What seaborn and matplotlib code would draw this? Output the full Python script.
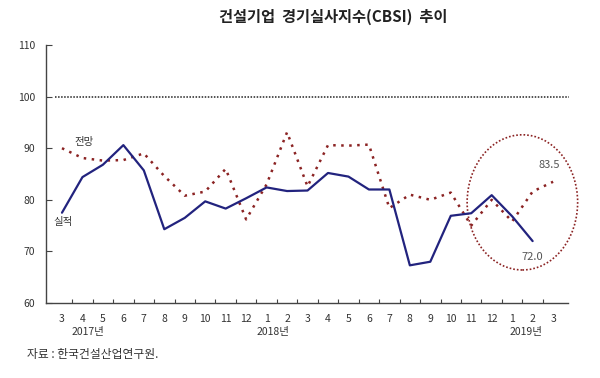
import matplotlib
matplotlib.use("Agg")
import matplotlib.pyplot as plt
from matplotlib.patches import Ellipse
import seaborn as sns
import pandas as pd

sns.set_style("white")
plt.rcParams['font.family'] = ['Noto Sans CJK KR', 'DejaVu Sans']

# Data: 2017.3 ~ 2019.3
month_labels = ['3', '4', '5', '6', '7', '8', '9', '10', '11', '12',
                '1', '2', '3', '4', '5', '6', '7', '8', '9', '10', '11', '12',
                '1', '2', '3']
year_labels = ['2017년', '2018년', '2019년']
year_pos = [1.27, 10.3, 22.7]

actual = [77.5, 84.4, 86.8, 90.6, 85.7, 74.3, 76.5, 79.7, 78.3, 80.3,
          82.4, 81.7, 81.8, 85.2, 84.5, 82.0, 82.0, 67.3, 68.0, 76.9,
          77.4, 80.9, 76.8, 72.0]
forecast = [90.0, 88.1, 87.6, 87.7, 89.0, 84.6, 80.8, 81.6, 86.0, 76.2,
            83.0, 93.1, 82.6, 90.6, 90.5, 90.7, 78.4, 81.0, 80.0, 81.4,
            75.0, 80.0, 75.8, 81.6, 83.5]

df_a = pd.DataFrame({'idx': range(len(actual)), 'val': actual})
df_f = pd.DataFrame({'idx': range(len(forecast)), 'val': forecast})

navy = '#22237e'
red = '#8b2323'
txt = '#333333'

fig = plt.figure(figsize=(6, 3.78), dpi=100)
ax = fig.add_axes([0.0767, 0.1984, 0.87, 0.6825])

# 기준선 100
ax.plot([-0.35, 24.8], [100, 100], color='#222222', lw=1.1,
        linestyle=(0, (1, 1)), clip_on=False)

sns.lineplot(data=df_f, x='idx', y='val', ax=ax, color=red, lw=1.8,
             linestyle=(0, (1, 2.2)))
sns.lineplot(data=df_a, x='idx', y='val', ax=ax, color=navy, lw=1.6)

ax.add_patch(Ellipse((22.5, 79.5), 5.4, 26.2, fill=False, clip_on=False,
                     edgecolor=red, lw=1.2, linestyle=(0, (1, 1.2))))

ax.text(1.1, 91.3, '전망', fontsize=7.5, color=txt, ha='center', va='center')
ax.text(0.05, 75.7, '실적', fontsize=7.5, color=txt, ha='center', va='center')
ax.text(23.8, 86.8, '83.5', fontsize=8, color='#555555', ha='center', va='center')
ax.text(23.0, 69.0, '72.0', fontsize=8, color='#555555', ha='center', va='center')

ax.set_xlim(-0.78, 24.73)
ax.set_ylim(60, 110)
ax.set_yticks([60, 70, 80, 90, 100, 110])
ax.set_xticks(range(len(month_labels)))
ax.set_xticklabels(month_labels)
ax.set_xticks([i + 0.5 for i in range(len(month_labels) - 1)], minor=True)
ax.tick_params(axis='x', which='major', length=0, pad=8, labelsize=7.5,
               labelcolor=txt)
ax.tick_params(axis='x', which='minor', length=3, direction='in',
               color='#444444', width=0.8, bottom=True)
ax.tick_params(axis='y', length=4, direction='in', pad=8, labelsize=7.5,
               labelcolor=txt, color='#444444', width=0.8, left=True)
ax.set_xlabel('')
ax.set_ylabel('')

for s in ['top', 'right']:
    ax.spines[s].set_visible(False)
for s in ['left', 'bottom']:
    ax.spines[s].set_color('#444444')
    ax.spines[s].set_linewidth(1.0)

for lab, xp in zip(year_labels, year_pos):
    ax.text(xp, -0.112, lab, transform=ax.get_xaxis_transform(),
            fontsize=7.5, color=txt, ha='center', va='center')

fig.text(0.555, 0.955, '건설기업  경기실사지수(CBSI)  추이', fontsize=11,
         fontweight='bold', color='#222222', ha='center', va='center')
fig.text(0.045, 0.063, '자료 : 한국건설산업연구원.', fontsize=8.5,
         color=txt, ha='left', va='center')

fig.savefig('out.png', dpi=100)
